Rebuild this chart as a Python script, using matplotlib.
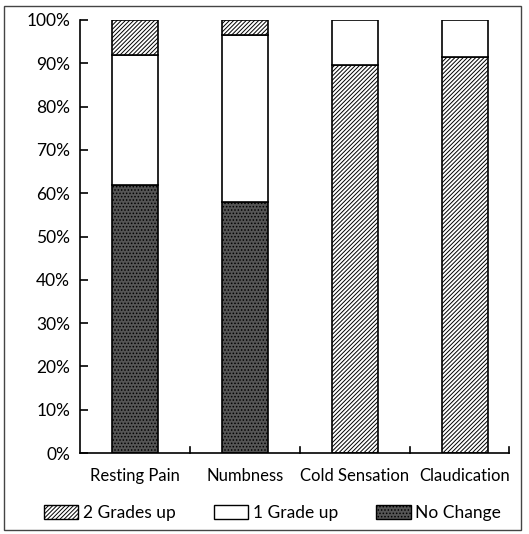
import matplotlib.pyplot as plt
import matplotlib.patches as mpatches

categories = ['Resting Pain', 'Numbness', 'Cold Sensation', 'Claudication']
no_change = [62, 58, 0, 0]
one_grade = [30, 38.5, 10.5, 8.5]
two_grades = [8, 3.5, 89.5, 91.5]
# stacking order of segments for each bar (bottom to top)
stack_order = [
    ['No Change', '1 Grade up', '2 Grades up'],
    ['No Change', '1 Grade up', '2 Grades up'],
    ['2 Grades up', '1 Grade up', 'No Change'],
    ['2 Grades up', '1 Grade up', 'No Change'],
]
yticks = [0, 10, 20, 30, 40, 50, 60, 70, 80, 90, 100]

series = {'No Change': no_change, '1 Grade up': one_grade, '2 Grades up': two_grades}
styles = {
    '2 Grades up': dict(facecolor='white', hatch='////////'),
    '1 Grade up': dict(facecolor='white', hatch=''),
    'No Change': dict(facecolor='#555555', hatch='.....'),
}

plt.rcParams['font.family'] = ['Lato', 'DejaVu Sans']
plt.rcParams['hatch.linewidth'] = 0.7

fig = plt.figure(figsize=(5.29, 5.34), dpi=100)
ax = fig.add_axes([80 / 529, (534 - 453) / 534, (509 - 80) / 529, (453 - 20) / 534])

width = 0.41
for i, cat in enumerate(categories):
    bottom = 0
    for name in stack_order[i]:
        v = series[name][i]
        if v <= 0:
            continue
        ax.bar(i, v, width, bottom=bottom, edgecolor='black', linewidth=1.2, **styles[name])
        bottom += v

ax.set_xlim(-0.5, 3.4)
ax.set_ylim(0, 100)
ax.set_yticks(yticks)
ax.set_yticklabels([f'{t}%' for t in yticks], fontsize=12.5)
ax.set_xticks(range(len(categories)))
ax.set_xticklabels(categories, fontsize=12)
ax.tick_params(axis='x', length=0, pad=11)
ax.tick_params(axis='y', direction='in', length=6, width=1.2, pad=7)
# boundary ticks along the x axis
for b in [0.5, 1.5, 2.5, 3.4]:
    ax.plot([b, b], [0, 1.5], color='black', lw=1.2, clip_on=False)
for s in ['top', 'right']:
    ax.spines[s].set_visible(False)
for s in ['left', 'bottom']:
    ax.spines[s].set_linewidth(1.2)

handles = [mpatches.Patch(edgecolor='black', linewidth=1.0, label=n, **styles[n])
           for n in ['2 Grades up', '1 Grade up', 'No Change']]
fig.legend(handles=handles, loc='center', bbox_to_anchor=(0.515, 1 - 513 / 534), ncol=3,
           frameon=False, fontsize=12.5, handlelength=2.0, handleheight=0.8,
           handletextpad=0.25, columnspacing=2.2)

fig.patches.append(mpatches.Rectangle((4 / 529, 4 / 534), 517 / 529, 524 / 534,
                                      transform=fig.transFigure, fill=False,
                                      edgecolor='#444444', linewidth=1.0))

fig.savefig('out.png', dpi=100)
